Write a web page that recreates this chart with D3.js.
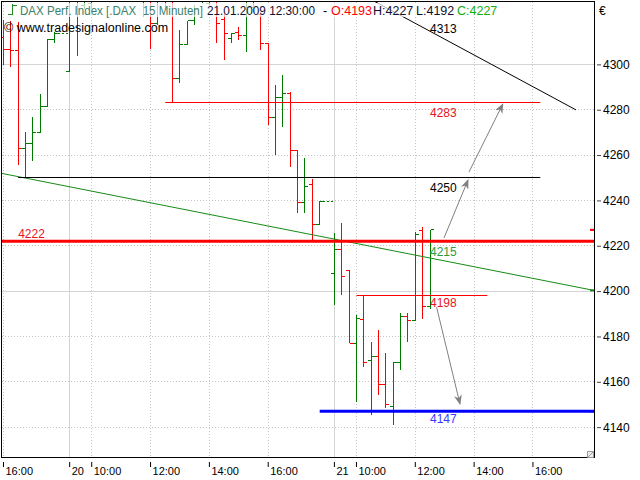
<!DOCTYPE html>
<html><head><meta charset="utf-8">
<script src="https://cdn.jsdelivr.net/npm/d3@7"></script>
<style>body{margin:0;background:#fff;} svg{display:block;font-family:"Liberation Sans",Arial,sans-serif;}</style>
</head><body><svg id="c" width="640" height="480"></svg>
<script>
// ---------- data (15-minute OHLC bars, index = bar slot; null = empty slot between sessions)
const open  = [4312,4306.6,4306.3,4263.0,4264.9,4269.8,4281.3,4311.0,null,
  4297.0,4342,4326,4327,4342,4345,4340,4346,4342,4338,4336,4330,4318,4330,4332,4293.8,4308.8,4319.2,4328,4327,4330,4319.6,4311.5,4314.1,4312.9,4325,4322,4309.3,4276.6,4285.4,4287.2,4261.8,4239.2,4247.2,4229.5,null,
  4207.8,4218.4,4209.0,4177.0,4187.3,4169.2,4171.1,4158.6,4149.0,4168.4,4189.0,4187.0,4226.9,4193];
const high  = [4319.5,4319.2,4318.8,4270.3,4276.8,4286.9,4311.0,4314.4,null,
  4345,4346,4345,4348,4350,4352,4348,4353,4347,4344,4340,4333,4340,4338,4334,4315.1,4319.2,4326,4336,4338,4334,4322.6,4313.9,4316.6,4330,4333,4323,4309.5,4290.9,4295.3,4287.9,4261.9,4258.6,4249.3,4239.7,null,
  4225.5,4229.9,4209.5,4189.5,4198.3,4177.7,4182.9,4172.6,4168.9,4190.5,4190.2,4226.2,4228.1,4227];
const low   = [4299.7,4298.9,4255.6,4249.7,4257.5,4269.8,4281.3,4309.5,null,
  4296.8,4303.8,4324.4,4324.4,4336,4338,4334,4340,4333,4330,4321,4306.6,4317.3,4324,4283,4291.6,4308.5,4317.3,4327,4326,4309.3,4302,4309.3,4310.7,4305.5,4323,4306.3,4273.2,4260.0,4272.5,4254.9,4234.6,4234.6,4222.5,4229.2,null,
  4193.9,4198.3,4177.0,4151.2,4166.7,4145.4,4154.2,4148.3,4141.0,4165.2,4177.7,4186.8,4187.6,4192];
const close = [4306.6,4306.3,4263.0,4264.9,4269.8,4281.3,4311.0,4313.8,null,
  4340,4330,4340,4342,4345,4340,4346,4342,4338,4336,4328,4318,4330,4333,4293.8,4308.8,4319.2,4324,4333,4334,4318,4313.7,4313.7,4312.9,4325,4330,4309.3,4276.6,4285.4,4287.2,4261.8,4239.2,4246.2,4229.5,4239.7,null,
  4218.4,4206.4,4177.0,4188.0,4168.4,4171.1,4158.6,4149.8,4168.4,4189.0,4187.0,4225,4193.1,4227];
const sessionEndBars = [7, 43];

const xTickIdx    = [0, 9, 12, 20, 28, 36, 45, 48, 56, 64, 72];
const xTickLabels = ["16:00","20","10:00","12:00","14:00","16:00","21","10:00","12:00","14:00","16:00"];
const dayStartIdx = [9, 45];
const yTicks = [4140,4160,4180,4200,4220,4240,4260,4280,4300];

// horizontal support/resistance lines: price, from bar slot, to bar slot
const hLinePrice = [4283, 4250, 4222, 4198, 4147];
const hLineFrom  = [22, 2, -0.2, 48, 43];
const hLineTo    = [73, 73, 80.3, 65.8, 80.3];
const hLineColor = ["#ff0000","#000000","#ff0000","#ff0000","#0000ff"];
const hLineWidth = [1, 1, 3, 1, 3];

// trend lines [slot, price] pairs
const greenTrend = [[-0.2, 4251.9], [80.3, 4200.3]];
const blackTrend = [[50.1, 4328.4], [77.86, 4279.9]];

// price markers on the right edge: price, colour
const markerPrice = [4227, 4200.3, 4147];
const markerColor = ["#ff0000", "#168a16", "#0000ff"];

// value labels: text, anchor price (baseline), colour
const labelText   = ["4313","4283","4250","4215","4198","4147"];
const labelAnchor = [4313.8, 4276.8, 4243.7, 4215.5, 4193.0, 4141.8];
const labelColor  = ["#000000","#e8141e","#000000","#2f9a3a","#e8141e","#3a3aff"];
const labelSlot = 58;

// arrows [fromSlot, fromPrice, toSlot, toPrice]
const arrows = [[59.9, 4223.4, 63.17, 4249.0],[63.3, 4252.5, 67.9, 4282.5],[58.9, 4192.9, 62.08, 4150.2]];

// ---------- scales
const svg = d3.select("#c");
const x = d3.scaleLinear().domain([-0.2, 80.3]).range([2, 594]);
const y = d3.scaleLinear().domain([4126.4, 4327.5]).range([458, 2]);
const px = v => Math.floor(x(v)) + 0.5;
const py = v => Math.floor(y(v)) + 0.5;

svg.append("rect").attr("width",640).attr("height",480).attr("fill","#fff");
svg.append("defs").append("clipPath").attr("id","clip").append("rect")
  .attr("x",2).attr("y",2).attr("width",592).attr("height",456);
svg.select("defs").append("marker").attr("id","ah").attr("viewBox","0 0 10 8")
  .attr("refX",9).attr("refY",4).attr("markerWidth",10).attr("markerHeight",8)
  .attr("markerUnits","userSpaceOnUse").attr("orient","auto")
  .append("path").attr("d","M0,0 L10,4 L0,8 L3,4 Z").attr("fill","#808080");

// ---------- grid
const grid = svg.append("g").attr("clip-path","url(#clip)");
grid.selectAll("line.hg").data(yTicks).join("line")
  .attr("x1",2).attr("x2",594).attr("y1",d=>py(d)).attr("y2",d=>py(d))
  .attr("stroke",d=> d%100===0 ? "#d4d4d4" : "#c4c4c4")
  .attr("stroke-dasharray",d=> d%100===0 ? null : "1,2");
grid.selectAll("line.vg").data(xTickIdx).join("line")
  .attr("y1",2).attr("y2",458).attr("x1",d=>px(d)).attr("x2",d=>px(d))
  .attr("stroke",d=> dayStartIdx.includes(d) ? "#d4d4d4" : "#c4c4c4")
  .attr("stroke-dasharray",d=> dayStartIdx.includes(d) ? null : "1,2");

// ---------- OHLC bars
const bars = d3.range(open.length).filter(i => open[i] != null)
  .map(i => ({i, o:open[i], h:high[i], l:low[i], c:close[i]}));
const col = d => d.c >= d.o ? "#007a00" : "#ff0000";
const bg = svg.append("g").attr("clip-path","url(#clip)").attr("shape-rendering","crispEdges");
const half = (x(1)-x(0))/2;
bg.selectAll("line.hl").data(bars).join("line")
  .attr("x1",d=>px(d.i)).attr("x2",d=>px(d.i)).attr("y1",d=>y(d.h)).attr("y2",d=>y(d.l)).attr("stroke",col);
bg.selectAll("line.op").data(bars).join("line")
  .attr("x1",d=>px(d.i)-half).attr("x2",d=>px(d.i)).attr("y1",d=>py(d.o)).attr("y2",d=>py(d.o)).attr("stroke",col);
bg.selectAll("line.cl").data(bars).join("line")
  .attr("x1",d=>px(d.i)).attr("x2",d=>px(d.i)+half).attr("y1",d=>py(d.c)).attr("y2",d=>py(d.c)).attr("stroke",col);
bg.selectAll("line.se").data(sessionEndBars.map(i=>bars.find(b=>b.i===i))).join("line")
  .attr("x1",d=>px(d.i)+half).attr("x2",d=>x(d.i+1.8)).attr("y1",d=>py(d.c)).attr("y2",d=>py(d.c))
  .attr("stroke",col).attr("stroke-dasharray","2,2");

// ---------- lines
const lg = svg.append("g").attr("clip-path","url(#clip)");
lg.append("line").attr("x1",x(greenTrend[0][0])).attr("y1",y(greenTrend[0][1]))
  .attr("x2",x(greenTrend[1][0])).attr("y2",y(greenTrend[1][1])).attr("stroke","#168a16");
lg.append("line").attr("x1",x(blackTrend[0][0])).attr("y1",y(blackTrend[0][1]))
  .attr("x2",x(blackTrend[1][0])).attr("y2",y(blackTrend[1][1])).attr("stroke","#000");
lg.selectAll("line.h").data(hLinePrice).join("line")
  .attr("x1",(d,k)=>x(hLineFrom[k])).attr("x2",(d,k)=>x(hLineTo[k]))
  .attr("y1",(d,k)=> hLineWidth[k]===1 ? py(d) : y(d)).attr("y2",(d,k)=> hLineWidth[k]===1 ? py(d) : y(d))
  .attr("stroke",(d,k)=>hLineColor[k]).attr("stroke-width",(d,k)=>hLineWidth[k]);
lg.selectAll("line.ar").data(arrows).join("line")
  .attr("x1",d=>x(d[0])).attr("y1",d=>y(d[1])).attr("x2",d=>x(d[2])).attr("y2",d=>y(d[3]))
  .attr("stroke","#808080").attr("marker-end","url(#ah)");
lg.selectAll("line.mk").data(markerPrice).join("line")
  .attr("x1",590).attr("x2",594).attr("y1",d=>y(d)).attr("y2",d=>y(d))
  .attr("stroke",(d,k)=>markerColor[k]).attr("stroke-width",2);

// ---------- value labels
svg.selectAll("text.vl").data(labelText).join("text")
  .attr("x",x(labelSlot)).attr("y",(d,k)=>y(labelAnchor[k]))
  .attr("fill",(d,k)=>labelColor[k]).attr("font-size",12).text(d=>d);
svg.append("text").attr("x",x(2)).attr("y",y(4223.5)).attr("fill","#e8141e").attr("font-size",12).text("4222");

// ---------- frame
svg.append("rect").attr("x",1.5).attr("y",1.5).attr("width",593).attr("height",456)
  .attr("fill","none").attr("stroke","#000");

// ---------- axes
const yAxis = d3.axisRight(y).tickValues(yTicks).tickSize(4).tickPadding(2).tickFormat(d3.format("d"));
const ya = svg.append("g").attr("transform","translate(597,0)").call(yAxis);
ya.select(".domain").remove();
ya.selectAll("line").attr("stroke","#444");
ya.selectAll("text").attr("font-size",12).attr("font-family","Liberation Sans, Arial").attr("fill","#000");

const xAxis = d3.axisBottom(x).tickValues(xTickIdx).tickSize(5).tickFormat((d,k)=>xTickLabels[k]);
const xa = svg.append("g").attr("transform","translate(0,462)").call(xAxis);
xa.select(".domain").remove();
xa.selectAll("line").attr("stroke","#000").attr("transform","translate(-0.5,0)");
xa.selectAll("text").attr("text-anchor","start").attr("x",1.5).attr("y",13).attr("dy",null)
  .attr("font-size",11).attr("font-family","Liberation Sans, Arial").attr("fill","#000");

// ---------- header
svg.append("rect").attr("x",18).attr("y",3).attr("width",480).attr("height",14).attr("fill","#fff").attr("opacity",0.7);
const icon = svg.append("g").attr("stroke","#1f8a1f").attr("shape-rendering","crispEdges");
icon.append("line").attr("x1",12.5).attr("x2",12.5).attr("y1",4).attr("y2",15);
icon.append("line").attr("x1",8).attr("x2",12.5).attr("y1",14.5).attr("y2",14.5);
icon.append("line").attr("x1",12.5).attr("x2",17).attr("y1",5.5).attr("y2",5.5);
const hdr = [["DAX Perf. Index [.DAX  15 Minuten]",20,"#3a7f6a",183],["21.01.2009 12:30:00",207,"#101030",108],["-",323,"#000",0],
  ["O:4193",331,"#ff0000",0],["H:4227",373,"#101030",0],["L:4192",416,"#101030",0],["C:4227",457,"#10b010",0]];
svg.selectAll("text.hd").data(hdr).join("text").attr("x",d=>d[1]).attr("y",15).attr("fill",d=>d[2])
  .attr("font-size",12.5).attr("xml:space","preserve").style("white-space","pre")
  .attr("textLength",d=>d[3]||null).attr("lengthAdjust","spacingAndGlyphs").text(d=>d[0]);
svg.append("text").attr("x",4).attr("y",32).attr("font-size",12.5).attr("fill","#000").text("© www.tradesignalonline.com");
svg.append("text").attr("x",599).attr("y",15).attr("font-size",12).attr("fill","#000").text("€");
svg.append("path").attr("d","M587.5,451.5 h6 v6 h-6 z M588,457 L593,452").attr("fill","#eee").attr("stroke","#999");
</script></body></html>
